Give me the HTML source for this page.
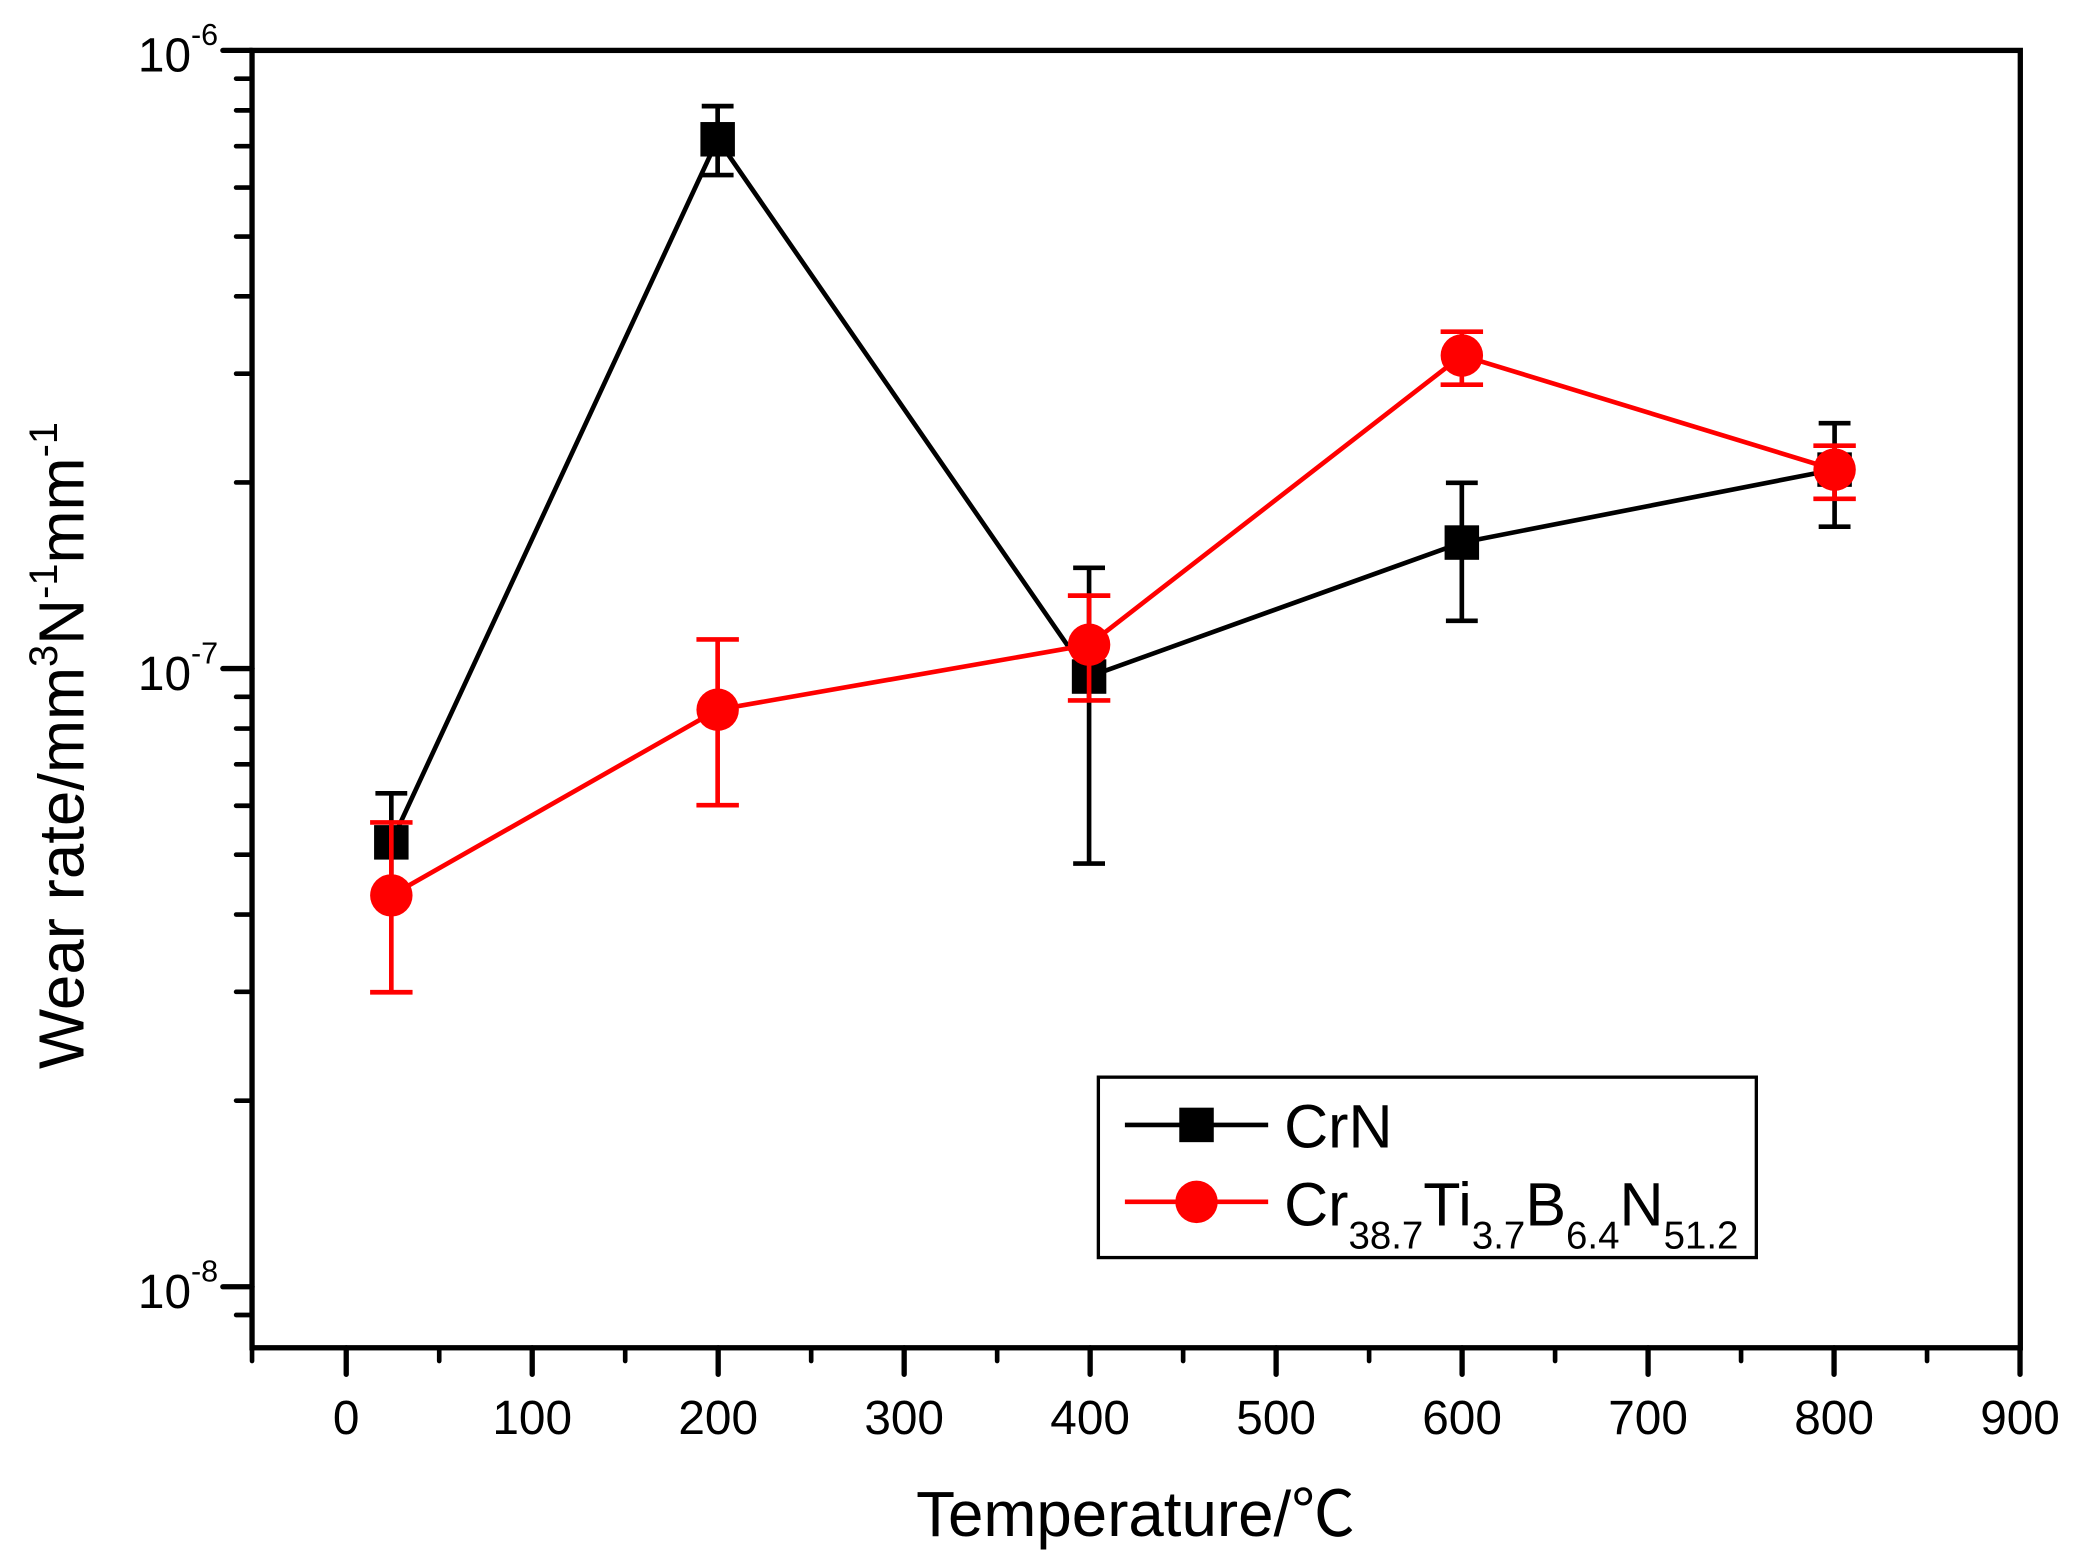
<!DOCTYPE html>
<html><head><meta charset="utf-8"><style>html,body{margin:0;padding:0;background:#fff}svg{display:block}</style></head>
<body>
<svg width="2080" height="1564" viewBox="0 0 1568 1179" preserveAspectRatio="none" xmlns="http://www.w3.org/2000/svg" font-family="Liberation Sans, Arial, sans-serif">
<rect width="1568" height="1179" fill="#fff"/>
<rect x="190" y="38" width="1333" height="978" fill="none" stroke="#000" stroke-width="4"/>
<g stroke="#000" stroke-width="4" stroke-linecap="round">
<line x1="168" y1="38" x2="190" y2="38"/><line x1="168" y1="504" x2="190" y2="504"/><line x1="168" y1="970" x2="190" y2="970"/>
<g stroke-width="3.5">
<line x1="178" y1="363.7" x2="190" y2="363.7"/><line x1="178" y1="281.7" x2="190" y2="281.7"/><line x1="178" y1="223.4" x2="190" y2="223.4"/><line x1="178" y1="178.3" x2="190" y2="178.3"/><line x1="178" y1="141.4" x2="190" y2="141.4"/><line x1="178" y1="110.2" x2="190" y2="110.2"/><line x1="178" y1="83.2" x2="190" y2="83.2"/><line x1="178" y1="59.3" x2="190" y2="59.3"/>
<line x1="178" y1="829.7" x2="190" y2="829.7"/><line x1="178" y1="747.7" x2="190" y2="747.7"/><line x1="178" y1="689.4" x2="190" y2="689.4"/><line x1="178" y1="644.3" x2="190" y2="644.3"/><line x1="178" y1="607.4" x2="190" y2="607.4"/><line x1="178" y1="576.2" x2="190" y2="576.2"/><line x1="178" y1="549.2" x2="190" y2="549.2"/><line x1="178" y1="525.3" x2="190" y2="525.3"/>
<line x1="178" y1="991.3" x2="190" y2="991.3"/>
</g>
<line x1="261" y1="1016" x2="261" y2="1036"/><line x1="401.2" y1="1016" x2="401.2" y2="1036"/><line x1="541.4" y1="1016" x2="541.4" y2="1036"/><line x1="681.6" y1="1016" x2="681.6" y2="1036"/><line x1="821.8" y1="1016" x2="821.8" y2="1036"/><line x1="962" y1="1016" x2="962" y2="1036"/><line x1="1102.2" y1="1016" x2="1102.2" y2="1036"/><line x1="1242.4" y1="1016" x2="1242.4" y2="1036"/><line x1="1382.6" y1="1016" x2="1382.6" y2="1036"/><line x1="1522.8" y1="1016" x2="1522.8" y2="1036"/>
<g stroke-width="3.5">
<line x1="190" y1="1016" x2="190" y2="1026"/><line x1="331.1" y1="1016" x2="331.1" y2="1026"/><line x1="471.3" y1="1016" x2="471.3" y2="1026"/><line x1="611.5" y1="1016" x2="611.5" y2="1026"/><line x1="751.7" y1="1016" x2="751.7" y2="1026"/><line x1="891.9" y1="1016" x2="891.9" y2="1026"/><line x1="1032.1" y1="1016" x2="1032.1" y2="1026"/><line x1="1172.3" y1="1016" x2="1172.3" y2="1026"/><line x1="1312.5" y1="1016" x2="1312.5" y2="1026"/><line x1="1452.7" y1="1016" x2="1452.7" y2="1026"/>
</g>
</g>
<g font-size="36" text-anchor="middle" fill="#000">
<text x="261" y="1081">0</text><text x="401.2" y="1081">100</text><text x="541.4" y="1081">200</text><text x="681.6" y="1081">300</text><text x="821.8" y="1081">400</text><text x="962" y="1081">500</text><text x="1102.2" y="1081">600</text><text x="1242.4" y="1081">700</text><text x="1382.6" y="1081">800</text><text x="1522.8" y="1081">900</text>
</g>
<g font-size="36" text-anchor="end" fill="#000">
<text x="144" y="54">10</text><text x="144" y="520">10</text><text x="144" y="986">10</text>
</g>
<g font-size="23" fill="#000">
<text x="144" y="34">-6</text><text x="144" y="500">-7</text><text x="144" y="966">-8</text>
</g>
<text x="856" y="1158" font-size="48" text-anchor="middle" fill="#000">Temperature/<tspan font-family="Noto Sans CJK SC, sans-serif">℃</tspan></text>
<text transform="translate(63,562) rotate(-90)" font-size="48" text-anchor="middle" fill="#000">Wear rate/mm<tspan font-size="30" dy="-20">3</tspan><tspan dy="20">N</tspan><tspan font-size="30" dy="-20">-1</tspan><tspan dy="20">mm</tspan><tspan font-size="30" dy="-20">-1</tspan></text>
<g stroke="#000" stroke-width="3.5" fill="none">
<polyline points="295,635 541,105 821,510 1102,409 1383,354"/>
<path d="M295,598V672M283,598H307M283,672H307 M541,80V132M529,80H553M529,132H553 M821,428V651M809,428H833M809,651H833 M1102,364V468M1090,364H1114M1090,468H1114 M1383,319V397M1371,319H1395M1371,397H1395"/>
</g>
<g fill="#000">
<rect x="282" y="622" width="26" height="26"/><rect x="528" y="92" width="26" height="26"/><rect x="808" y="497" width="26" height="26"/><rect x="1089" y="396" width="26" height="26"/><rect x="1370" y="341" width="26" height="26"/>
</g>
<g stroke="#f00" stroke-width="3.5" fill="none">
<polyline points="295,675 541,535 821,486 1102,268 1383,354"/>
<path d="M295,620V748M279,620H311M279,748H311 M541,482V607M525,482H557M525,607H557 M821,449V528M805,449H837M805,528H837 M1102,250V290M1086,250H1118M1086,290H1118 M1383,336V376M1367,336H1399M1367,376H1399"/>
</g>
<g fill="#f00">
<circle cx="295" cy="675" r="16"/><circle cx="541" cy="535" r="16"/><circle cx="821" cy="486" r="16"/><circle cx="1102" cy="268" r="16"/><circle cx="1383" cy="354" r="16"/>
</g>
<rect x="828" y="812" width="496" height="136" fill="#fff" stroke="#000" stroke-width="2.5"/>
<line x1="848" y1="848" x2="956" y2="848" stroke="#000" stroke-width="3.5"/>
<rect x="889" y="835" width="26" height="26" fill="#000"/>
<line x1="848" y1="906" x2="956" y2="906" stroke="#f00" stroke-width="3.5"/>
<circle cx="902" cy="906" r="16" fill="#f00"/>
<g font-size="46" fill="#000">
<text x="968" y="865">CrN</text>
<text x="968" y="924">Cr<tspan font-size="29" dy="17">38.7</tspan><tspan dy="-17">Ti</tspan><tspan font-size="29" dy="17">3.7</tspan><tspan dy="-17">B</tspan><tspan font-size="29" dy="17">6.4</tspan><tspan dy="-17">N</tspan><tspan font-size="29" dy="17">51.2</tspan></text>
</g>
</svg>
</body></html>
